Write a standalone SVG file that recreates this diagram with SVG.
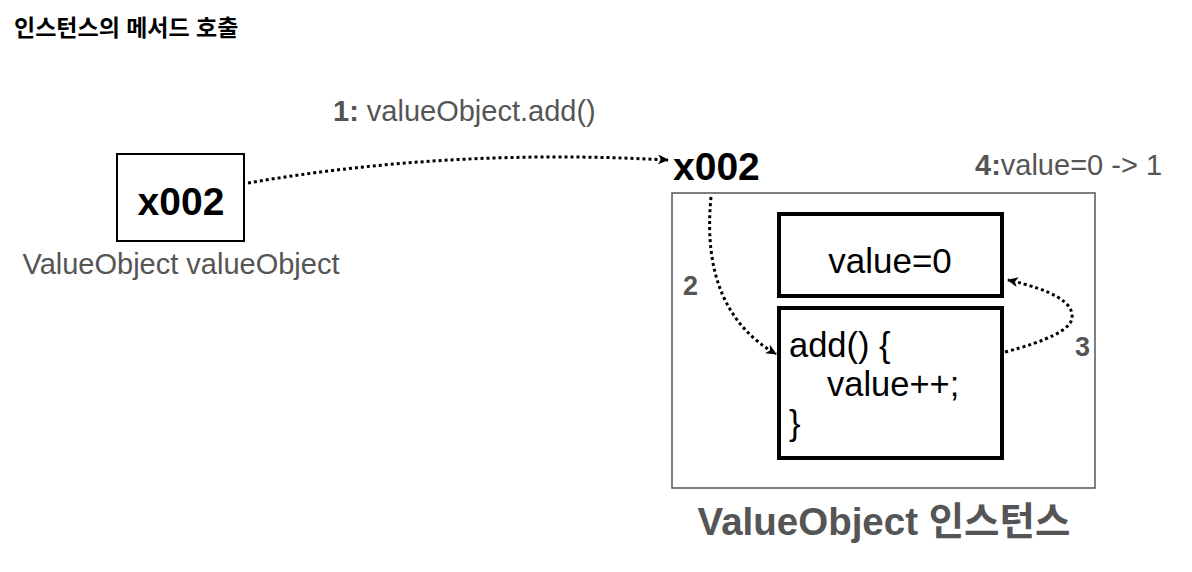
<svg xmlns="http://www.w3.org/2000/svg" width="1192" height="572" viewBox="0 0 1192 572">
<defs>
<marker id="arr" markerWidth="12" markerHeight="10" refX="10" refY="5" orient="auto" markerUnits="userSpaceOnUse">
<path d="M0,0 L11,5 L0,10 L3,5 Z" fill="#000"/>
</marker>
</defs>
<style>
text{font-family:"Liberation Sans",Arial,"Noto Sans CJK KR",sans-serif}
.gray{fill:#555}
.b{font-weight:bold}
.dot{fill:none;stroke:#000;stroke-width:3;stroke-dasharray:3 3}
.thick{fill:#fff;stroke:#000;stroke-width:4}
</style>
<rect width="1192" height="572" fill="#fff"/>
<text x="14" y="36" font-size="23" class="b" fill="#000">인스턴스의 메서드 호출</text>

<g id="ref">
<rect x="117" y="154" width="127" height="87" fill="#fff" stroke="#000" stroke-width="2"/>
<text x="181" y="215" font-size="39" class="b" text-anchor="middle" fill="#000">x002</text>
<text x="181" y="274" font-size="29" class="gray" text-anchor="middle">ValueObject valueObject</text>
</g>

<g id="instance">
<rect x="672" y="193" width="423" height="295" fill="#fff" stroke="#555" stroke-width="1.5"/>
<text x="673" y="180" font-size="39" class="b" fill="#000">x002</text>
<text x="975" y="175" font-size="29" class="gray"><tspan class="b">4:</tspan>value=0 -&gt; 1</text>
<text x="884" y="535" font-size="38.5" class="b gray" text-anchor="middle">ValueObject 인스턴스</text>
</g>

<g id="value-field">
<rect x="779" y="214" width="223" height="82" class="thick"/>
<text x="890" y="273" font-size="35" text-anchor="middle" fill="#000">value=0</text>
</g>

<g id="add-method">
<rect x="779" y="308" width="223" height="150" class="thick"/>
<text x="789" y="357" font-size="34.5" fill="#000">add() {</text>
<text x="827" y="396" font-size="34.5" fill="#000">value++;</text>
<text x="789" y="435" font-size="34.5" fill="#000">}</text>
</g>

<g id="connectors">
<path class="dot" d="M248,183 Q450,148 668,160" marker-end="url(#arr)"/>
<text x="333" y="121" font-size="29" class="gray"><tspan class="b">1:</tspan> valueObject.add()</text>
<path class="dot" d="M711,197 Q700,310 776,354" marker-end="url(#arr)"/>
<text x="683" y="295" font-size="27" class="b gray">2</text>
<path class="dot" d="M1005,352 Q1070,335 1072,318 Q1075,295 1008,280" marker-end="url(#arr)"/>
<text x="1075" y="356" font-size="27" class="b gray">3</text>
</g>
</svg>
